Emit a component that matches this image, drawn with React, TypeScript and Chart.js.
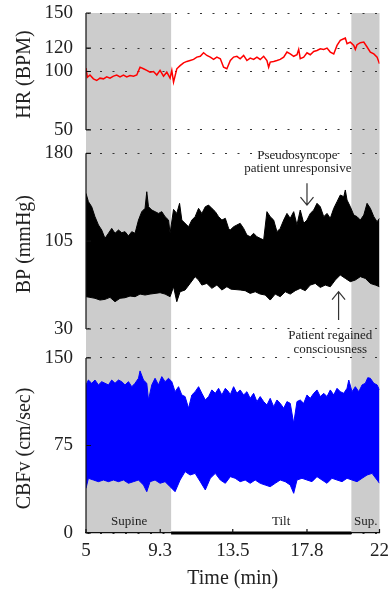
import React, { useEffect, useRef } from 'react';
import { Chart, registerables } from 'chart.js';

Chart.register(...registerables);

// ---- tick labels ----
const xTicks = [5, 9.3, 13.5, 17.8, 22];
const hrTicks = [50, 100, 120, 150];
const bpTicks = [30, 105, 180];
const cbfTicks = [0, 75, 150];

// ---- axis titles ----
const yTitles = ['HR (BPM)', 'BP (mmHg)', 'CBFv (cm/sec)'];

// ---- phases (min) ----
const supineEnd = 9.93;
const recoveryStart = 20.37;
const phaseLabels = ['Supine', 'Tilt', 'Sup.'];
const phaseLabelTimes = [7.5, 16.3, 21.2];

// ---- HR (BPM) ----
const hrTime = [5.0, 5.08, 5.23, 5.43, 5.62, 5.81, 6.01, 6.2, 6.39, 6.59, 6.78, 6.97, 7.17, 7.36, 7.55, 7.75, 7.94, 8.13, 8.33, 8.52, 8.71, 8.91, 9.1, 9.29, 9.49, 9.68, 9.87, 9.97, 10.07, 10.26, 10.45, 10.65, 10.84, 11.03, 11.23, 11.42, 11.62, 11.81, 12.0, 12.2, 12.39, 12.58, 12.78, 12.97, 13.16, 13.36, 13.55, 13.74, 13.93, 14.13, 14.32, 14.51, 14.71, 14.9, 15.09, 15.29, 15.48, 15.58, 15.67, 15.87, 16.06, 16.25, 16.45, 16.64, 16.83, 17.03, 17.22, 17.32, 17.41, 17.61, 17.8, 17.99, 18.19, 18.38, 18.57, 18.77, 18.96, 19.15, 19.35, 19.54, 19.73, 19.93, 20.02, 20.12, 20.31, 20.51, 20.6, 20.7, 20.89, 21.09, 21.28, 21.47, 21.67, 21.86, 22.0];
const hrValues = [102.9, 95, 97, 93.7, 92.3, 94.3, 93.7, 95.4, 94.3, 96, 97, 95.4, 97, 95.4, 96.6, 96, 97, 103.7, 102.3, 101, 99.4, 100, 97, 100.9, 96, 99.4, 94.3, 100.9, 90.9, 102.3, 105, 107.4, 108.6, 109.4, 110.3, 112.3, 113, 116, 113.7, 112.3, 110.3, 112.3, 110.9, 103.7, 102.3, 109.4, 112.3, 113, 110.9, 113.7, 109.4, 111.4, 110.3, 112.3, 110.3, 113, 109.4, 103.7, 108, 108.6, 109.4, 110.3, 112.3, 116.6, 115, 113, 114.3, 118.9, 110.9, 112.3, 116, 114.3, 117.1, 118, 119.4, 118.9, 120, 116.6, 115, 122.3, 126.6, 128, 128.6, 123.7, 125.1, 122.3, 118.9, 122.9, 124.6, 125.1, 120.9, 116.6, 115, 112.3, 106.6];

// ---- BP (mmHg): upper and lower envelope ----
const bpUpperTime = [5.0, 5.14, 5.33, 5.52, 5.72, 5.91, 6.1, 6.3, 6.49, 6.68, 6.88, 7.07, 7.26, 7.46, 7.65, 7.84, 8.04, 8.23, 8.42, 8.52, 8.62, 8.81, 9.0, 9.2, 9.39, 9.58, 9.78, 9.87, 10.07, 10.26, 10.42, 10.55, 10.74, 10.94, 11.13, 11.32, 11.52, 11.71, 11.91, 12.1, 12.29, 12.49, 12.68, 12.87, 13.07, 13.26, 13.35, 13.55, 13.74, 13.93, 14.13, 14.32, 14.51, 14.71, 14.9, 15.09, 15.29, 15.48, 15.67, 15.87, 16.06, 16.25, 16.45, 16.64, 16.83, 17.03, 17.22, 17.41, 17.61, 17.8, 17.99, 18.19, 18.38, 18.57, 18.77, 18.96, 19.15, 19.35, 19.54, 19.73, 19.93, 20.02, 20.12, 20.31, 20.51, 20.7, 20.89, 21.09, 21.28, 21.47, 21.67, 21.86, 22.0];
const bpUpper = [145.8, 138.7, 134.4, 125.9, 118.8, 114.5, 107.4, 111.7, 115.9, 111.7, 114.5, 112.2, 113.1, 109.4, 113.1, 111.7, 123, 130.2, 133, 147.2, 134.4, 131.6, 130.2, 128.7, 130.2, 125.9, 123, 111.7, 132.1, 128.7, 137.3, 123, 120.2, 117.3, 123, 125.9, 133, 128.7, 134.4, 135.8, 133, 130.2, 125.9, 123, 124.5, 115.9, 114.5, 117.3, 118.8, 120.2, 115.9, 110.2, 108.8, 111.7, 108.8, 107.4, 106, 130.2, 125.9, 123, 113.1, 115.9, 123, 128.7, 124.5, 130.2, 118.8, 131.6, 120.2, 123, 128.7, 131.6, 137.3, 134.4, 125.9, 128.7, 124.5, 133, 138.7, 144.4, 143, 148.7, 140.1, 134.4, 127.3, 125.9, 123, 127.3, 137.3, 133, 125.9, 121.6, 124.5];
const bpLowerTime = [5.0, 5.23, 5.52, 5.81, 6.1, 6.39, 6.68, 6.97, 7.26, 7.55, 7.84, 8.13, 8.42, 8.71, 9.0, 9.29, 9.58, 9.87, 10.07, 10.26, 10.45, 10.74, 11.03, 11.32, 11.52, 11.71, 12.0, 12.29, 12.58, 12.87, 13.16, 13.4, 13.93, 14.22, 14.51, 14.8, 15.09, 15.38, 15.67, 15.96, 16.25, 16.54, 16.83, 17.12, 17.41, 17.7, 17.99, 18.28, 18.57, 18.86, 19.15, 19.44, 19.73, 20.02, 20.31, 20.6, 20.89, 21.18, 21.47, 21.76, 22.0];
const bpLower = [57.6, 57, 56.2, 54.7, 55.3, 57, 53.3, 56.2, 56.7, 58.1, 57.6, 59.8, 59, 59.8, 60.4, 61, 59.8, 57.6, 66.1, 53.3, 61.8, 63.3, 68.9, 74.7, 71.8, 67.5, 68.9, 64.7, 67.5, 63.3, 66.1, 64, 63.3, 62.7, 60.4, 61.8, 59.8, 59, 54.7, 59.8, 57.6, 61.8, 59.8, 62.7, 64.7, 62.7, 67.5, 68.9, 65.5, 67.5, 66.1, 71.8, 76.1, 73.2, 70.4, 71.8, 74.7, 73.2, 68.9, 67.5, 66.1];

// ---- CBFv (cm/sec): upper and lower envelope ----
const cbfUpperTime = [5.0, 5.14, 5.33, 5.52, 5.72, 5.91, 6.1, 6.3, 6.49, 6.68, 6.88, 7.07, 7.26, 7.46, 7.65, 7.84, 8.04, 8.13, 8.33, 8.52, 8.62, 8.81, 9.0, 9.2, 9.39, 9.58, 9.78, 9.97, 10.16, 10.36, 10.55, 10.74, 10.94, 11.13, 11.32, 11.52, 11.71, 11.91, 12.1, 12.29, 12.49, 12.68, 12.87, 13.07, 13.26, 13.35, 13.55, 13.74, 13.93, 14.13, 14.32, 14.51, 14.71, 14.9, 15.09, 15.29, 15.48, 15.67, 15.87, 16.06, 16.25, 16.45, 16.64, 16.83, 17.03, 17.22, 17.41, 17.61, 17.8, 17.99, 18.19, 18.38, 18.57, 18.77, 18.96, 19.15, 19.35, 19.54, 19.73, 19.93, 20.12, 20.22, 20.41, 20.6, 20.8, 20.99, 21.18, 21.32, 21.47, 21.67, 21.86, 22.0];
const cbfUpper = [126.9, 131.1, 128.3, 131.1, 126.9, 129.7, 128.3, 126.9, 131.1, 128.3, 131.1, 129.7, 126.9, 129.7, 125.4, 128.3, 132.6, 138.9, 131.1, 128.3, 114, 126.9, 132.6, 126.9, 134, 129.7, 132.6, 129.7, 121.1, 125.4, 118.3, 116.9, 106.9, 118.3, 121.1, 125.4, 119.7, 114, 116.9, 122.6, 119.7, 124, 118.3, 124, 121.1, 118.3, 125.4, 119.7, 122.6, 118.3, 121.1, 115.4, 119.7, 112.6, 116.9, 112.6, 109.7, 115.4, 108.3, 114, 111.1, 106.9, 112.6, 111.1, 94, 112.6, 114, 111.1, 118.3, 115.4, 119.7, 122.6, 116.9, 119.7, 116.9, 122.6, 118.3, 124, 121.1, 119.7, 124, 131.1, 121.1, 125.4, 121.1, 126.9, 128.3, 133.1, 132.6, 128.3, 126.9, 122.6];
const cbfLowerTime = [5.0, 5.14, 5.43, 5.72, 6.01, 6.3, 6.59, 6.88, 7.17, 7.46, 7.75, 8.04, 8.33, 8.52, 8.71, 9.0, 9.29, 9.58, 9.87, 10.16, 10.45, 10.74, 11.03, 11.32, 11.62, 11.91, 12.2, 12.49, 12.78, 13.07, 13.36, 13.64, 13.93, 14.22, 14.51, 14.8, 15.09, 15.38, 15.67, 15.96, 16.25, 16.54, 16.83, 17.03, 17.22, 17.51, 17.8, 18.09, 18.38, 18.67, 18.96, 19.25, 19.54, 19.83, 20.12, 20.41, 20.7, 20.99, 21.28, 21.57, 21.86, 22.0];
const cbfLower = [38.3, 46.9, 45.4, 44, 45.4, 44, 45.4, 44, 45.4, 42.6, 44, 45.4, 41.1, 35.4, 44, 45.4, 42.6, 44, 39.7, 35.4, 45.4, 52.6, 49.7, 51.1, 44, 36.9, 46.9, 51.1, 45.4, 42.6, 48.3, 46.9, 44, 45.4, 42.6, 45.4, 42.6, 41.1, 39.7, 42.6, 45.4, 44, 41.1, 34, 45.4, 46.9, 45.4, 44, 48.3, 45.4, 42.6, 46.9, 45.4, 44, 46.9, 45.4, 44, 46.9, 49.7, 51.1, 45.4, 42.6];

const zip = (xs: number[], ys: number[]) => xs.map((x, i) => ({ x, y: ys[i] }));

const SERIF = '"Liberation Serif", "Times New Roman", serif';
const TEXT = '#222';

const setTicks = (vals: number[]) => (s: any) => {
  s.ticks = vals.map((v) => ({ value: v }));
};

const noPad = (s: any) => {
  s.paddingTop = 0;
  s.paddingBottom = 0;
  s.paddingLeft = 0;
  s.paddingRight = 0;
};

const decor = {
  id: 'decor',
  beforeDraw(chart: any) {
    const { ctx, chartArea: a, scales } = chart;
    const x = scales.x;
    ctx.save();
    ctx.fillStyle = '#cccccc';
    const x0 = x.getPixelForValue(5);
    const x1 = x.getPixelForValue(supineEnd);
    const x2 = x.getPixelForValue(recoveryStart);
    const x3 = x.getPixelForValue(22);
    ctx.fillRect(x0, a.top, x1 - x0, a.bottom - a.top);
    ctx.fillRect(x2, a.top, x3 - x2, a.bottom - a.top);
    ctx.restore();
  },
  afterDatasetsDraw(chart: any) {
    const { ctx, chartArea: a, scales } = chart;
    const x = scales.x;
    ctx.save();
    ctx.strokeStyle = '#111';
    ctx.lineWidth = 1.2;
    const axes: [string, number[]][] = [['yHR', hrTicks], ['yBP', bpTicks], ['yCBF', cbfTicks]];
    axes.forEach(([id, t], i) => {
      const s = scales[id];
      const top = s.getPixelForValue(Math.max(...t));
      const bot = s.getPixelForValue(Math.min(...t));
      ctx.beginPath();
      ctx.moveTo(a.left, top);
      ctx.lineTo(a.left, bot);
      for (const v of t) {
        const p = s.getPixelForValue(v);
        ctx.moveTo(a.left, p);
        ctx.lineTo(a.left + 5, p);
      }
      ctx.stroke();
      // axis title, centred on the span of the ticks
      ctx.save();
      ctx.fillStyle = TEXT;
      ctx.font = `20px ${SERIF}`;
      ctx.textAlign = 'center';
      ctx.textBaseline = 'middle';
      ctx.translate(25, (top + bot) / 2 + 3);
      ctx.rotate(-Math.PI / 2);
      ctx.fillText(yTitles[i], 0, 0);
      ctx.restore();
    });
    ctx.beginPath();
    for (const v of xTicks) {
      const p = x.getPixelForValue(v);
      ctx.moveTo(p, a.bottom);
      ctx.lineTo(p, a.bottom - 4);
    }
    ctx.stroke();

    // annotations
    const bp = scales.yBP;
    const cbf = scales.yCBF;
    ctx.fillStyle = TEXT;
    ctx.textAlign = 'center';
    ctx.textBaseline = 'middle';
    ctx.font = `13px ${SERIF}`;
    ctx.fillText('Pseudosyncope', x.getPixelForValue(17.24), bp.getPixelForValue(178.5));
    ctx.fillText('patient unresponsive', x.getPixelForValue(17.27), bp.getPixelForValue(167.4));
    ctx.fillText('Patient regained', x.getPixelForValue(19.15), bp.getPixelForValue(24.2));
    ctx.fillText('consciousness', x.getPixelForValue(19.15), bp.getPixelForValue(12.4));

    ctx.strokeStyle = '#333';
    ctx.lineWidth = 1.2;
    // down arrow
    let ax = x.getPixelForValue(17.8);
    let ay0 = bp.getPixelForValue(154.4);
    let ay1 = bp.getPixelForValue(135.8);
    ctx.beginPath();
    ctx.moveTo(ax, ay0);
    ctx.lineTo(ax, ay1);
    ctx.moveTo(ax - 6.5, ay1 - 8);
    ctx.lineTo(ax, ay1);
    ctx.lineTo(ax + 6.5, ay1 - 8);
    ctx.stroke();
    // up arrow
    ax = x.getPixelForValue(19.63);
    ay0 = bp.getPixelForValue(37.6);
    ay1 = bp.getPixelForValue(61.8);
    ctx.beginPath();
    ctx.moveTo(ax, ay0);
    ctx.lineTo(ax, ay1);
    ctx.moveTo(ax - 6.5, ay1 + 8);
    ctx.lineTo(ax, ay1);
    ctx.lineTo(ax + 6.5, ay1 + 8);
    ctx.stroke();

    // phase labels
    ctx.font = `13px ${SERIF}`;
    phaseLabels.forEach((lab, i) => {
      ctx.fillText(lab, x.getPixelForValue(phaseLabelTimes[i]), cbf.getPixelForValue(9.4));
    });
    ctx.restore();
  },
};

const yCommon = (ticks: number[]) => ({
  type: 'linear' as const,
  position: 'left' as const,
  stack: 'panels',
  afterBuildTicks: setTicks(ticks),
  afterFit: (s: any) => {
    s.width = 86;
    noPad(s);
  },
  grid: { color: '#333', lineWidth: 1, drawTicks: false },
  border: { display: false, dash: [2, 10.5], dashOffset: -1.5 },
  ticks: {
    autoSkip: false,
    padding: 13,
    color: TEXT,
    font: { family: SERIF, size: 19 },
    callback: (v: any) => String(v),
  },
  title: { display: false },
});

export default function App() {
  const ref = useRef<HTMLCanvasElement>(null);
  useEffect(() => {
    document.body.style.margin = '0';
    const chart = new Chart(ref.current as HTMLCanvasElement, {
      type: 'line',
      data: {
        datasets: [
          {
            label: 'HR',
            data: zip(hrTime, hrValues),
            yAxisID: 'yHR',
            borderColor: '#ff0000',
            borderWidth: 1.5,
            pointRadius: 0,
            tension: 0,
            fill: false,
          },
          {
            label: 'BP upper',
            data: zip(bpUpperTime, bpUpper),
            yAxisID: 'yBP',
            borderColor: '#000',
            backgroundColor: '#000',
            borderWidth: 1,
            pointRadius: 0,
            tension: 0,
            fill: '+1',
          },
          {
            label: 'BP lower',
            data: zip(bpLowerTime, bpLower),
            yAxisID: 'yBP',
            borderColor: '#000',
            borderWidth: 1,
            pointRadius: 0,
            tension: 0,
            fill: false,
          },
          {
            label: 'CBFv upper',
            data: zip(cbfUpperTime, cbfUpper),
            yAxisID: 'yCBF',
            borderColor: '#0000ff',
            backgroundColor: '#0000ff',
            borderWidth: 1,
            pointRadius: 0,
            tension: 0,
            fill: '+1',
          },
          {
            label: 'CBFv lower',
            data: zip(cbfLowerTime, cbfLower),
            yAxisID: 'yCBF',
            borderColor: '#0000ff',
            borderWidth: 1,
            pointRadius: 0,
            tension: 0,
            fill: false,
          },
          {
            label: 'Tilt',
            data: [
              { x: supineEnd, y: 0 },
              { x: recoveryStart, y: 0 },
            ],
            yAxisID: 'yCBF',
            borderColor: '#000',
            borderWidth: 3,
            pointRadius: 0,
            fill: false,
            clip: false,
          } as any,
        ],
      },
      options: {
        animation: false,
        responsive: false,
        devicePixelRatio: 1,
        layout: { padding: { top: 13, right: 11.5, left: 0, bottom: 0 } },
        plugins: { legend: { display: false }, tooltip: { enabled: false } },
        scales: {
          x: {
            type: 'linear',
            min: 5,
            max: 22,
            afterBuildTicks: setTicks(xTicks),
            afterFit: (s: any) => {
              s.height = 59;
              noPad(s);
            },
            grid: { display: false, drawTicks: false },
            border: { display: true, color: '#111', width: 1.2 },
            ticks: {
              autoSkip: false,
              maxRotation: 0,
              padding: 7,
              color: TEXT,
              font: { family: SERIF, size: 19 },
              callback: (v: any) => String(v),
            },
            title: {
              display: true,
              text: 'Time (min)',
              color: TEXT,
              font: { family: SERIF, size: 20 },
              padding: { top: 0, bottom: 1 },
            },
          },
          yHR: { ...yCommon(hrTicks), min: 40.14, max: 150, stackWeight: 128.5, weight: 3 },
          yBP: { ...yCommon(bpTicks), min: 17.6, max: 190.1, stackWeight: 202, weight: 2 },
          yCBF: { ...yCommon(cbfTicks), min: 0, max: 162.4, stackWeight: 189.5, weight: 1 },
        } as any,
      },
      plugins: [decor],
    } as any);
    return () => chart.destroy();
  }, []);
  return <canvas ref={ref} width={391} height={592} style={{ display: 'block', width: 391, height: 592 }} />;
}
